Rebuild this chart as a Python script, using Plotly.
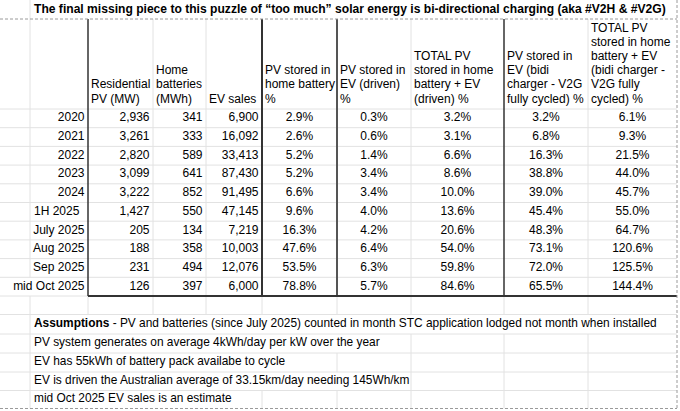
import plotly.graph_objects as go

# ---------------- data ----------------
title_text = "The final missing piece to this puzzle of “too much” solar energy is bi-directional charging (aka #V2H & #V2G)"
periods = ["2020", "2021", "2022", "2023", "2024", "1H 2025", "July 2025", "Aug 2025", "Sep 2025", "mid Oct 2025"]
residential_pv_mw = [2936, 3261, 2820, 3099, 3222, 1427, 205, 188, 231, 126]
home_batteries_mwh = [341, 333, 589, 641, 852, 550, 134, 358, 494, 397]
ev_sales = [6900, 16092, 33413, 87430, 91495, 47145, 7219, 10003, 12076, 6000]
pv_home_battery_pct = [2.9, 2.6, 5.2, 5.2, 6.6, 9.6, 16.3, 47.6, 53.5, 78.8]
pv_ev_driven_pct = [0.3, 0.6, 1.4, 3.4, 3.4, 4.0, 4.2, 6.4, 6.3, 5.7]
total_driven_pct = [3.2, 3.1, 6.6, 8.6, 10.0, 13.6, 20.6, 54.0, 59.8, 84.6]
pv_ev_v2g_pct = [3.2, 6.8, 16.3, 38.8, 39.0, 45.4, 48.3, 73.1, 72.0, 65.5]
total_v2g_pct = [6.1, 9.3, 21.5, 44.0, 45.7, 55.0, 64.7, 120.6, 125.5, 144.4]

header_labels = [
    ["Residential", "PV (MW)"],
    ["Home", "batteries", "(MWh)"],
    ["EV sales"],
    ["PV stored in", "home battery", "%"],
    ["PV stored in", "EV (driven)", "%"],
    ["TOTAL PV", "stored in home", "battery + EV", "(driven) %"],
    ["PV stored in", "EV (bidi", "charger - V2G", "fully cycled) %"],
    ["TOTAL PV", "stored in home", "battery + EV", "(bidi charger -", "V2G fully", "cycled) %"],
]
assumptions = [
    "<b>Assumptions</b> - PV and batteries (since July 2025) counted in month STC application lodged not month when installed",
    "PV system generates on average 4kWh/day per kW over the year",
    "EV has 55kWh of battery pack availabe to cycle",
    "EV is driven the Australian average of 33.15km/day needing 145Wh/km",
    "mid Oct 2025 EV sales is an estimate",
]

# ---------------- layout geometry (sheet grid) ----------------
W, H = 680, 411
col_edges = [0, 30, 88, 153, 206, 262, 337, 411, 504, 588, 677]
title_top, title_bot = 0, 19
header_bot = 109
row_h = 18.7
n_rows = len(periods)
data_bot = header_bot + row_h * n_rows
empty_bot = 314.5
assump_edges = [empty_bot, 334, 353, 372, 390.5, 408.5]
# rightmost x reached by each assumption text (used to hide grid lines it overflows)
assump_text_end = [655, 378, 286, 409, 231]

FONT = "Liberation Sans, Arial, Helvetica, sans-serif"
GRID = "#e2e2e2"
DARK = "#333333"
PAD = 3.5

fig = go.Figure()
shapes = []


def hline(y, x0, x1, color=GRID, width=1, dash=None):
    d = dict(type="line", xref="x", yref="y", x0=x0, x1=x1, y0=y, y1=y,
             line=dict(color=color, width=width), layer="above")
    if dash:
        d["line"]["dash"] = dash
    shapes.append(d)


def vline(x, y0, y1, color=GRID, width=1, dash=None):
    d = dict(type="line", xref="x", yref="y", x0=x, x1=x, y0=y0, y1=y1,
             line=dict(color=color, width=width), layer="above")
    if dash:
        d["line"]["dash"] = dash
    shapes.append(d)


row_edges = [header_bot + row_h * i for i in range(n_rows + 1)]
row_centers = [header_bot + row_h * (i + 0.5) for i in range(n_rows)]

# faint horizontal grid lines
for y in row_edges[:-1]:
    hline(y, 0, col_edges[-1])
hline(data_bot, 0, col_edges[2])
for y in assump_edges[:-1]:
    hline(y, 0, col_edges[-1])

# faint vertical grid lines
dark_cols = {2: (DARK, 1.5), 5: (DARK, 2), 6: ("#555555", 2), 8: (DARK, 1.5)}
vline(col_edges[1], title_top, title_bot)
for ci in range(1, len(col_edges) - 1):
    x = col_edges[ci]
    if ci not in dark_cols:
        if ci == 1:
            vline(x, title_bot, row_edges[-2])
        else:
            vline(x, title_bot, data_bot)
    vline(x, data_bot, empty_bot)
for r, end in enumerate(assump_text_end):
    y0, y1 = assump_edges[r], assump_edges[r + 1]
    vline(col_edges[1], y0, y1)
    for x in col_edges[2:-1]:
        if x > end:
            vline(x, y0, y1)

# dark table borders
for ci, (c, w) in dark_cols.items():
    vline(col_edges[ci], title_bot, data_bot, color=c, width=w)
hline(data_bot, col_edges[2], col_edges[-1], color=DARK, width=2)

# dashed print-area borders
hline(title_bot, 0, col_edges[-1], color="#9a9a9a", dash="3px,2px")
hline(assump_edges[-1], 0, col_edges[-1], color="#9a9a9a", dash="3px,2px")
vline(col_edges[-1], 0, assump_edges[-1], color="#9a9a9a", dash="3px,2px")


def text_trace(xs, ys, texts, pos, size=12):
    fig.add_trace(go.Scatter(
        x=xs, y=ys, text=texts, mode="text", textposition=pos,
        textfont=dict(family=FONT, size=size, color="#000000"),
        hoverinfo="skip", showlegend=False, cliponaxis=False))


# title
text_trace([col_edges[1] + 4], [(title_top + title_bot) / 2 + 0.5], ["<b>" + title_text + "</b>"],
           "middle right", size=12.1)

# header labels (bottom aligned, left aligned)
line_gap = 14.2
last_line_y = header_bot - 9.5
for ci, lines in enumerate(header_labels):
    x0 = col_edges[ci + 2] + 3
    n = len(lines)
    ys = [last_line_y - (n - 1 - k) * line_gap for k in range(n)]
    text_trace([x0] * n, ys, lines, "middle right")

# row labels
label_right = [p for p in periods if p != "1H 2025"]
ys_right = [row_centers[i] for i, p in enumerate(periods) if p != "1H 2025"]
text_trace([col_edges[2] - PAD] * len(label_right), ys_right, label_right, "middle left")
i1h = periods.index("1H 2025")
text_trace([col_edges[1] + 4], [row_centers[i1h]], [periods[i1h]], "middle right")

# integer columns (right aligned)
for ci, vals in zip([2, 3, 4], [residential_pv_mw, home_batteries_mwh, ev_sales]):
    text_trace([col_edges[ci + 1] - PAD] * n_rows, row_centers, [f"{v:,}" for v in vals], "middle left")

# percentage columns (centred)
for ci, vals in zip([5, 6, 7, 8, 9], [pv_home_battery_pct, pv_ev_driven_pct, total_driven_pct,
                                      pv_ev_v2g_pct, total_v2g_pct]):
    xc = (col_edges[ci] + col_edges[ci + 1]) / 2
    text_trace([xc] * n_rows, row_centers, [f"{v:.1f}%" for v in vals], "middle center")

# assumptions
a_centers = [(assump_edges[i] + assump_edges[i + 1]) / 2 for i in range(len(assumptions))]
text_trace([col_edges[1] + 4] * len(assumptions), a_centers, assumptions, "middle right", size=11.9)

fig.update_layout(
    width=W, height=H, autosize=False,
    margin=dict(l=0, r=0, t=0, b=0, pad=0),
    paper_bgcolor="white", plot_bgcolor="white",
    xaxis=dict(range=[0, W], visible=False, fixedrange=True),
    yaxis=dict(range=[H, 0], visible=False, fixedrange=True),
    shapes=shapes,
)
fig.write_html("out.html", config={"displayModeBar": False},
               post_script="document.body.style.margin='0';document.body.style.overflow='hidden';")
